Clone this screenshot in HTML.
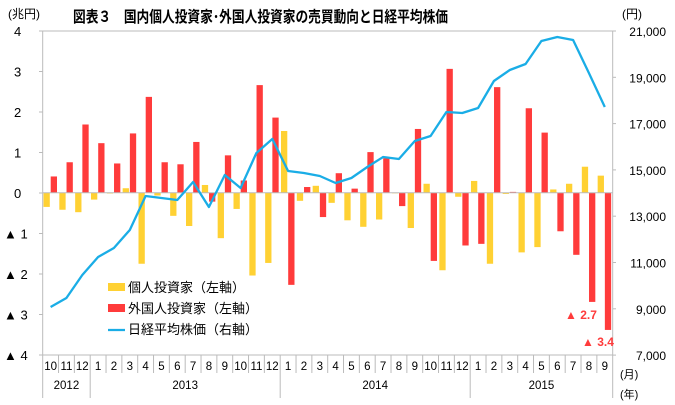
<!DOCTYPE html>
<html><head><meta charset="utf-8"><style>
body{margin:0;background:#fff;}
svg{display:block;font-family:"Liberation Sans","Noto Sans CJK JP",sans-serif;}
</style></head><body>
<svg id="c" width="675" height="405" xmlns="http://www.w3.org/2000/svg">
<rect x="0" y="0" width="675" height="405" fill="#fff"/>
<text x="73" y="22" font-size="15.5" font-weight="bold" fill="#000" textLength="375" lengthAdjust="spacingAndGlyphs">図表３　国内個人投資家･外国人投資家の売買動向と日経平均株価</text>
<text x="8" y="18" font-size="12" fill="#000">(兆円)</text>
<text x="622" y="18" font-size="12" fill="#000">(円)</text>
<rect x="42.7" y="31" width="570" height="324" fill="none" stroke="#bbb" stroke-width="1"/>
<g id="g"></g>
</svg>
<script>
const g=document.getElementById('g');
const X0=42.7,W=15.833,Z=192.7,U=40.6;
const ind=[-0.35,-0.42,-0.48,-0.17,-0.02,0.11,-1.75,-0.07,-0.57,-0.82,0.19,-1.12,-0.4,-2.04,-1.73,1.52,-0.2,0.17,-0.25,-0.68,-0.84,-0.66,-0.01,-0.87,0.22,-1.91,-0.1,0.29,-1.75,-0.03,-1.47,-1.34,0.08,0.22,0.64,0.42];
const fr=[0.4,0.75,1.68,1.22,0.72,1.46,2.36,0.75,0.7,1.25,-0.22,0.92,0.3,2.65,1.85,-2.27,0.14,-0.6,0.48,0.1,1.0,0.85,-0.33,1.57,-1.68,3.05,-1.3,-1.26,2.6,0.02,2.08,1.48,-0.95,-1.53,-2.69,-3.38];
const nk=[307,298,275,257,248,230,196,198,200,182,207,175,188,153,139,171,173,176,183,178,167,157,159,141,136,112,113,108,81,70,64,41,37,40,73,107];
const mo=[10,11,12,1,2,3,4,5,6,7,8,9,10,11,12,1,2,3,4,5,6,7,8,9,10,11,12,1,2,3,4,5,6,7,8,9];
let s='';
function bar(x,v,c){const y=v>0?Z-v*U:Z;const h=Math.abs(v)*U;s+=`<rect x="${x}" y="${y}" width="6.3" height="${Math.max(h,0.6)}" fill="${c}"/>`;}
for(let i=0;i<36;i++){const x=X0+i*W;bar(x+0.8,ind[i],'#FFD133');bar(x+8,fr[i],'#FF3B3B');}
s+=`<line x1="${X0}" y1="${Z}" x2="612.7" y2="${Z}" stroke="#bbb"/>`;
s+=`<polyline fill="none" stroke="#1AADE6" stroke-width="2.3" stroke-linejoin="round" points="${nk.map((y,i)=>(X0+(i+0.5)*W).toFixed(1)+','+y).join(' ')}"/>`;
// left ticks
const ll=['4','3','2','1','0','▲ 1','▲ 2','▲ 3','▲ 4'];
for(let k=0;k<9;k++){const y=31+k*40.5;s+=`<line x1="39" y1="${y}" x2="42.7" y2="${y}" stroke="#bbb"/>`;s+=`<text x="${k<5?14:4}" y="${y+5}" font-size="13" fill="#000">${ll[k]}</text>`;}
const rl=['21,000','19,000','17,000','15,000','13,000','11,000','9,000','7,000'];
for(let k=0;k<8;k++){const y=31+k*46.3;s+=`<line x1="612.7" y1="${y}" x2="616" y2="${y}" stroke="#bbb"/>`;s+=`<text x="666" y="${y+5}" font-size="12" text-anchor="end" fill="#000">${rl[k]}</text>`;}
// x axis
for(let i=0;i<=36;i++){const x=X0+i*W;const yr=(i==0||i==3||i==15||i==27||i==36);s+=`<line x1="${x}" y1="355" x2="${x}" y2="${yr?398:373}" stroke="#bbb"/>`;
 if(i<36)s+=`<text x="${x+W/2}" y="370" font-size="11.5" text-anchor="middle" fill="#000">${mo[i]}</text>`;}
[[2012,0,3],[2013,3,15],[2014,15,27],[2015,27,36]].forEach(a=>{s+=`<text x="${X0+(a[1]+a[2])/2*W}" y="389" font-size="11.5" text-anchor="middle" fill="#000">${a[0]}</text>`;});
s+=`<text x="620" y="378" font-size="11" fill="#000">(月)</text><text x="620" y="398" font-size="11" fill="#000">(年)</text>`;
// legend
s+=`<rect x="108" y="283" width="17" height="8" fill="#FFD133"/><text x="128" y="292" font-size="13" fill="#000">個人投資家（左軸）</text>`;
s+=`<rect x="108" y="304" width="17" height="8" fill="#FF3B3B"/><text x="128" y="313" font-size="13" fill="#000">外国人投資家（左軸）</text>`;
s+=`<line x1="108" y1="330" x2="125" y2="330" stroke="#1AADE6" stroke-width="2.3"/><text x="128" y="334" font-size="13" fill="#000">日経平均株価（右軸）</text>`;
s+=`<text x="565" y="319" font-size="12" font-weight="bold" fill="#FF3B3B">▲ 2.7</text>`;
s+=`<text x="582" y="346" font-size="12" font-weight="bold" fill="#FF3B3B">▲ 3.4</text>`;
g.innerHTML=s;
</script>
</body></html>
